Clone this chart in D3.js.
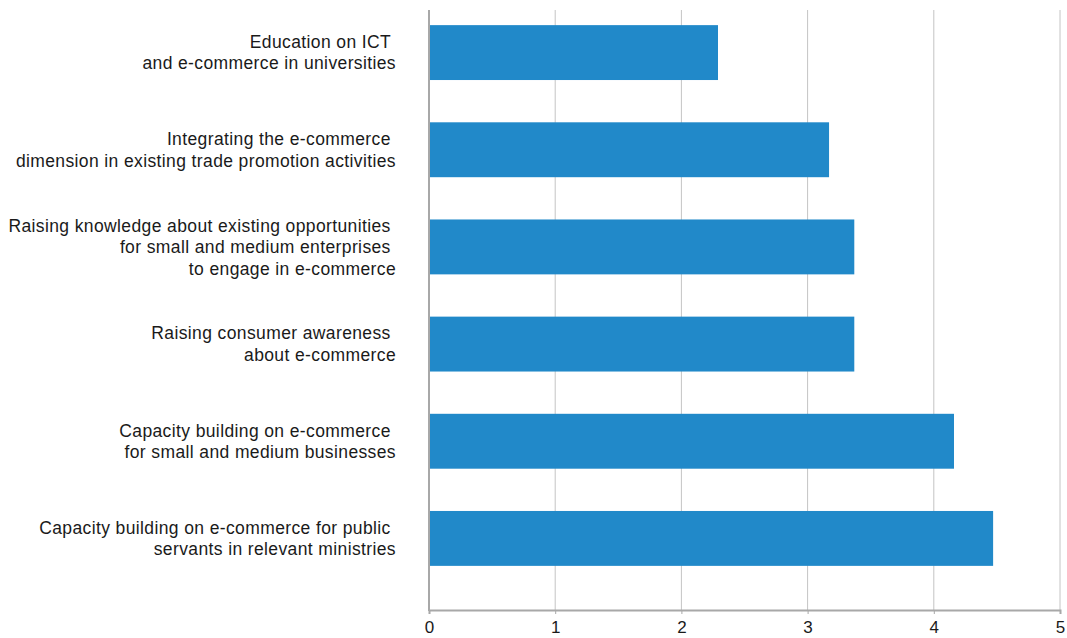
<!DOCTYPE html>
<html>
<head>
<meta charset="utf-8">
<script src="https://cdn.jsdelivr.net/npm/d3@7"></script>
<style>
  html, body { margin: 0; padding: 0; background: #fff; }
  svg { display: block; }
  text { font-family: "Liberation Sans", Arial, sans-serif; fill: #1a1a1a; }
</style>
</head>
<body>
<svg id="chart" width="1067" height="638"></svg>
<script>
// Categories, top to bottom, each split into its label lines
const categories = [
  ["Education on ICT ", "and e-commerce in universities"],
  ["Integrating the e-commerce ", "dimension in existing trade promotion activities"],
  ["Raising knowledge about existing opportunities ", "for small and medium enterprises ", "to engage in e-commerce"],
  ["Raising consumer awareness ", "about e-commerce"],
  ["Capacity building on e-commerce ", "for small and medium businesses"],
  ["Capacity building on e-commerce for public ", "servants in relevant ministries"]
];
const values = [2.29, 3.17, 3.37, 3.37, 4.16, 4.47];
const xTicks = [0, 1, 2, 3, 4, 5];

const svg = d3.select("#chart");
const plot = { left: 429, right: 1060, top: 10, bottom: 610 };

const x = d3.scaleLinear().domain([0, 5]).range([plot.left, plot.right]);
const y = d3.scaleBand()
  .domain(d3.range(categories.length))
  .range([4, 587])
  .paddingInner(0.435)
  .paddingOuter(0.2175);

// vertical gridlines
svg.append("g")
  .selectAll("line")
  .data(xTicks.slice(1))
  .join("line")
  .attr("x1", d => x(d)).attr("x2", d => x(d))
  .attr("y1", plot.top).attr("y2", plot.bottom)
  .attr("stroke", "#c4c4c4")
  .attr("stroke-width", 1);

// bars
svg.append("g")
  .selectAll("rect")
  .data(values)
  .join("rect")
  .attr("x", x(0))
  .attr("y", (d, i) => y(i))
  .attr("width", d => x(d) - x(0))
  .attr("height", y.bandwidth())
  .attr("fill", "#2189c9");

// x axis
const xAxis = svg.append("g")
  .attr("transform", `translate(0,${plot.bottom})`)
  .call(d3.axisBottom(x).tickValues(xTicks).tickSize(4).tickPadding(7).tickFormat(d3.format("d")));
xAxis.select(".domain").attr("stroke", "#a8a8a8").attr("stroke-width", 2);
xAxis.selectAll(".tick line").attr("stroke", "#a8a8a8");
xAxis.selectAll(".tick text")
  .attr("font-size", 17)
  .attr("fill", "#1a1a1a")
  .style("font-family", "'Liberation Sans', Arial, sans-serif");

// left axis line
svg.append("line")
  .attr("x1", x(0)).attr("x2", x(0))
  .attr("y1", plot.top).attr("y2", plot.bottom + 1)
  .attr("stroke", "#a8a8a8")
  .attr("stroke-width", 2);

// category labels
const lineH = 21.5;
const labels = svg.append("g")
  .selectAll("text")
  .data(categories)
  .join("text")
  .attr("text-anchor", "end")
  .attr("font-size", 17.5)
  .attr("letter-spacing", 0.38)
  .style("white-space", "pre")
  .attr("transform", (d, i) => `translate(396,${y(i) + y.bandwidth() / 2})`);

labels.selectAll("tspan")
  .data(d => d.map((t, k) => ({ t, k, n: d.length })))
  .join("tspan")
  .attr("x", 0)
  .attr("y", d => (d.k - (d.n - 1) / 2) * lineH)
  .attr("dy", "0.35em")
  .text(d => d.t);
</script>
</body>
</html>
